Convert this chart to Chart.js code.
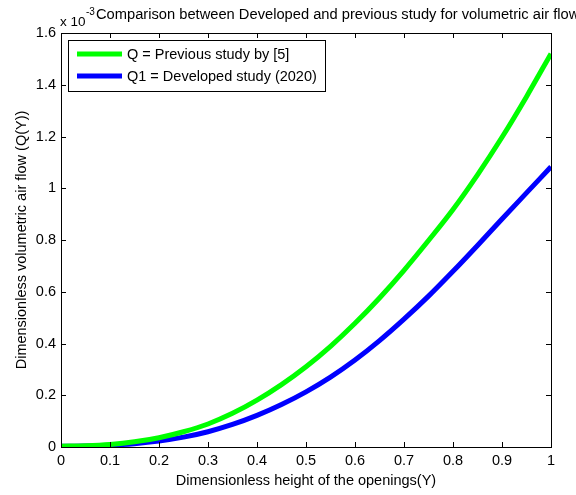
<!DOCTYPE html>
<html><head><meta charset="utf-8">
<script src="https://cdn.jsdelivr.net/npm/chart.js@4/dist/chart.umd.min.js"></script>
<style>html,body{margin:0;padding:0;background:#fff}#wrap{width:576px;height:495px}</style>
</head><body><div id="wrap"><canvas id="c" width="576" height="495"></canvas></div>
<script>
const xValues = [0,0.05,0.1,0.15,0.2,0.25,0.3,0.35,0.4,0.45,0.5,0.55,0.6,0.65,0.7,0.75,0.8,0.85,0.9,0.95,1.0];
const qPrevious = [0.003,0.005,0.010,0.020,0.036,0.059,0.089,0.130,0.181,0.241,0.310,0.389,0.478,0.576,0.683,0.798,0.918,1.052,1.197,1.354,1.520];
const qDeveloped = [0.003,0.004,0.007,0.013,0.023,0.038,0.059,0.087,0.122,0.164,0.213,0.270,0.336,0.411,0.494,0.583,0.679,0.779,0.881,0.982,1.083];
const seriesLabels = ["Q = Previous study by [5]", "Q1 = Developed study (2020)"];
const titleText = "Comparison between Developed and previous study for volumetric air flow";
const xTitle = "Dimensionless height of the openings(Y)";
const yTitle = "Dimensionless volumetric air flow (Q(Y))";
const FONT = "Liberation Sans, Arial, sans-serif";
const TXT = 14.5;

const fmt = v => String(Number(v.toFixed(2)));

const matlabPlugin = {
  id: 'matlab',
  afterDraw(chart) {
    const ctx = chart.ctx, a = chart.chartArea;
    const xs = chart.scales.x, ys = chart.scales.y;
    ctx.save();
    ctx.strokeStyle = '#000'; ctx.lineWidth = 1;
    ctx.strokeRect(a.left + 0.5, a.top + 0.5, a.right - a.left, a.bottom - a.top);
    ctx.beginPath();
    xs.ticks.forEach(t => {
      const p = Math.round(xs.getPixelForValue(t.value)) + 0.5;
      ctx.moveTo(p, a.bottom); ctx.lineTo(p, a.bottom - 5);
      ctx.moveTo(p, a.top); ctx.lineTo(p, a.top + 5);
    });
    ys.ticks.forEach(t => {
      const p = Math.round(ys.getPixelForValue(t.value)) + 0.5;
      ctx.moveTo(a.left, p); ctx.lineTo(a.left + 5, p);
      ctx.moveTo(a.right, p); ctx.lineTo(a.right - 5, p);
    });
    ctx.stroke();
    // title & exponent
    ctx.fillStyle = '#000';
    ctx.textBaseline = 'alphabetic';
    ctx.textAlign = 'left';
    ctx.font = '13.5px ' + FONT;
    ctx.fillText('x 10', 60, 26);
    ctx.font = '10px ' + FONT;
    ctx.fillText('-3', 86, 15);
    ctx.font = '14.7px ' + FONT;
    ctx.fillText(titleText, 96, 19);
    // axis titles
    ctx.font = TXT + 'px ' + FONT;
    ctx.textAlign = 'center';
    ctx.fillText(xTitle, (a.left + a.right) / 2, 485);
    ctx.save();
    ctx.translate(26, (a.top + a.bottom) / 2);
    ctx.rotate(-Math.PI / 2);
    ctx.fillText(yTitle, 0, 0);
    ctx.restore();
    // legend
    const lx = 68, ly = 40, lw = 257, lh = 51;
    ctx.fillStyle = '#fff';
    ctx.fillRect(lx, ly, lw, lh);
    ctx.strokeStyle = '#000';
    ctx.lineWidth = 1;
    ctx.strokeRect(lx + 0.5, ly + 0.5, lw, lh);
    chart.data.datasets.forEach((ds, i) => {
      const y = ly + 14 + i * 22;
      ctx.strokeStyle = ds.borderColor; ctx.lineWidth = 5;
      ctx.beginPath(); ctx.moveTo(77, y); ctx.lineTo(122, y); ctx.stroke();
      ctx.fillStyle = '#000'; ctx.textAlign = 'left'; ctx.textBaseline = 'middle';
      ctx.font = TXT + 'px ' + FONT;
      ctx.fillText(ds.label, 127, y + 1);
    });
    ctx.restore();
  }
};

new Chart(document.getElementById('c'), {
  type: 'line',
  data: {
    datasets: [
      { label: seriesLabels[0], data: xValues.map((x, i) => ({x, y: qPrevious[i]})), borderColor: '#00ff00', borderWidth: 5, pointRadius: 0, cubicInterpolationMode: 'monotone', fill: false },
      { label: seriesLabels[1], data: xValues.map((x, i) => ({x, y: qDeveloped[i]})), borderColor: '#0000ff', borderWidth: 5, pointRadius: 0, cubicInterpolationMode: 'monotone', fill: false }
    ]
  },
  options: {
    responsive: false, animation: false, devicePixelRatio: 1,
    layout: { padding: { top: 33, right: 25, left: 0, bottom: 0 } },
    plugins: { legend: { display: false }, tooltip: { enabled: false }, title: { display: false } },
    scales: {
      x: {
        type: 'linear', min: 0, max: 1,
        ticks: { stepSize: 0.1, color: '#000', font: { family: FONT, size: TXT }, padding: 5, maxRotation: 0, callback: v => fmt(v) },
        grid: { display: false, drawTicks: false }, border: { display: false },
        afterFit(s) { s.height = 48; }
      },
      y: {
        type: 'linear', min: 0, max: 1.6,
        ticks: { stepSize: 0.2, color: '#000', font: { family: FONT, size: TXT }, padding: 5, callback: v => fmt(v) },
        grid: { display: false, drawTicks: false }, border: { display: false },
        afterFit(s) { s.width = 61; }
      }
    }
  },
  plugins: [matlabPlugin]
});
</script></body></html>
